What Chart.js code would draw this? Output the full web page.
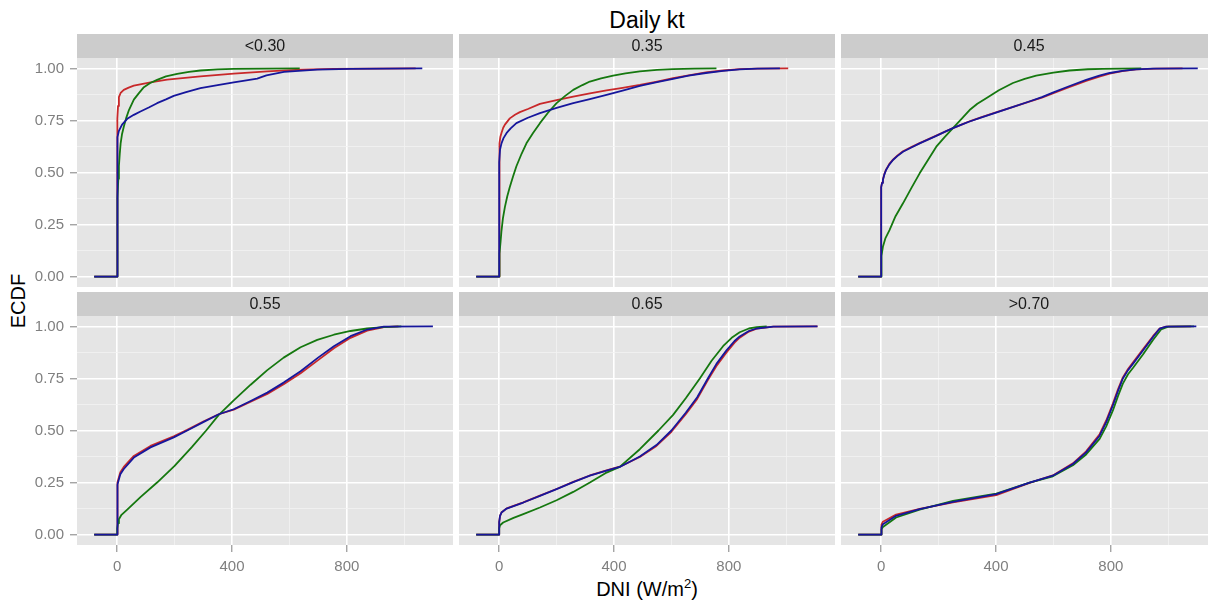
<!DOCTYPE html>
<html>
<head>
<meta charset="utf-8">
<script src="https://cdn.jsdelivr.net/npm/chart.js@4.4.0/dist/chart.umd.min.js"></script>
<style>
  body { margin: 0; width: 1208px; height: 603px; overflow: hidden; background: #fff; position: relative;
         font-family: "Liberation Sans", Arial, sans-serif; }
  canvas { position: absolute; }
  .title { position: absolute; left: 459px; width: 376px; top: 9px; text-align: center; font-size: 23px; line-height: 23px; color: #000; }
  .xlab { position: absolute; left: 459px; width: 376px; top: 579px; text-align: center; font-size: 20px; line-height: 20px; color: #000; }
  .xlab span { position: relative; top: -8px; font-size: 13px; }
  .ylab { position: absolute; left: -82px; top: 291px; width: 200px; text-align: center; font-size: 20px; line-height: 20px;
          transform: rotate(-90deg); color: #000; }
</style>
</head>
<body>
<div class="title">Daily kt</div>
<div class="ylab">ECDF</div>
<div class="xlab">DNI (W/m<span>2</span>)</div>

<canvas id="p0" width="453" height="253" style="left:0px;top:34px"></canvas>
<canvas id="p1" width="376" height="253" style="left:459px;top:34px"></canvas>
<canvas id="p2" width="376" height="253" style="left:841px;top:34px"></canvas>
<canvas id="p3" width="453" height="283" style="left:0px;top:292px"></canvas>
<canvas id="p4" width="376" height="283" style="left:459px;top:292px"></canvas>
<canvas id="p5" width="376" height="283" style="left:841px;top:292px"></canvas>

<script>
// facet labels
const panelLabels = ['<0.30', '0.35', '0.45', '0.55', '0.65', '>0.70'];

// tick positions
const xTicks = [0, 200, 400, 600, 800, 1000];
const yTicks = [0, 0.125, 0.25, 0.375, 0.5, 0.625, 0.75, 0.875, 1];

// ECDF curves, [DNI, F]
const p030Red = [[-80,0],[0,0],[0,0.6],[1,0.76],[3,0.82],[6,0.862],[12,0.882],[23,0.897],[40,0.908],[58,0.917],[116,0.933],[174,0.946],[290,0.962],[406,0.975],[523,0.986],[639,0.994],[755,0.998],[1040,1]];
const p030Green = [[-80,0],[0,0],[0,0.2],[2,0.38],[4,0.47],[6,0.53],[9,0.59],[12,0.64],[17,0.685],[23,0.72],[31,0.76],[41,0.8],[58,0.85],[75,0.88],[93,0.91],[115,0.93],[139,0.945],[170,0.962],[209,0.974],[250,0.983],[290,0.99],[350,0.995],[406,0.998],[636,1]];
const p030Blue = [[-80,0],[0,0],[0,0.62],[2,0.67],[6,0.7],[17,0.73],[35,0.758],[58,0.777],[81,0.793],[110,0.812],[139,0.833],[170,0.851],[197,0.868],[240,0.886],[290,0.905],[350,0.92],[406,0.933],[450,0.943],[488,0.951],[500,0.957],[520,0.967],[581,0.983],[697,0.994],[813,0.998],[1063,1]];

const p035Red = [[-80,0],[0,0],[0,0.58],[2,0.64],[4,0.67],[8,0.69],[14,0.715],[20,0.73],[37,0.76],[55,0.777],[72,0.79],[100,0.805],[142,0.83],[200,0.848],[258,0.865],[316,0.88],[374,0.894],[430,0.907],[490,0.921],[550,0.937],[606,0.953],[660,0.967],[720,0.981],[780,0.99],[838,0.997],[900,0.999],[1007,1]];
const p035Green = [[-80,0],[0,0],[0,0.04],[2,0.11],[5,0.17],[8,0.22],[13,0.28],[20,0.335],[28,0.385],[37,0.43],[48,0.48],[60,0.53],[78,0.59],[95,0.64],[118,0.69],[142,0.737],[170,0.787],[200,0.833],[230,0.868],[258,0.897],[290,0.92],[316,0.937],[355,0.952],[397,0.965],[440,0.976],[490,0.986],[550,0.993],[606,0.997],[680,0.999],[757,1]];
const p035Blue = [[-80,0],[0,0],[0,0.55],[3,0.61],[8,0.64],[15,0.665],[26,0.69],[40,0.712],[60,0.737],[100,0.763],[142,0.785],[200,0.81],[258,0.833],[316,0.853],[374,0.873],[430,0.893],[490,0.916],[550,0.934],[606,0.95],[660,0.965],[720,0.978],[780,0.988],[838,0.995],[900,0.999],[978,1]];

const p045Red = [[-80,0],[0,0],[0,0.43],[3,0.452],[6,0.466],[11,0.492],[17,0.514],[28,0.54],[41,0.562],[57,0.582],[76,0.602],[105,0.622],[134,0.641],[163,0.659],[192,0.677],[221,0.695],[250,0.713],[280,0.73],[308,0.746],[350,0.766],[400,0.789],[460,0.815],[516,0.84],[560,0.86],[598,0.88],[650,0.907],[714,0.94],[760,0.961],[796,0.975],[840,0.987],[888,0.995],[960,0.999],[1050,1]];
const p045Green = [[-80,0],[0,0],[0,0.05],[2,0.1],[6,0.143],[15,0.185],[29,0.223],[50,0.29],[76,0.352],[105,0.425],[134,0.496],[163,0.56],[192,0.624],[221,0.67],[250,0.713],[280,0.758],[308,0.8],[335,0.83],[366,0.857],[410,0.895],[459,0.93],[500,0.95],[540,0.965],[600,0.98],[656,0.99],[720,0.996],[772,0.998],[906,1]];
const p045Blue = [[-80,0],[0,0],[0,0.43],[3,0.45],[6,0.464],[11,0.49],[17,0.512],[28,0.538],[41,0.56],[57,0.58],[76,0.6],[105,0.62],[134,0.64],[163,0.658],[192,0.676],[221,0.695],[250,0.713],[280,0.73],[308,0.745],[350,0.765],[400,0.788],[460,0.815],[516,0.841],[560,0.862],[598,0.884],[650,0.912],[714,0.945],[760,0.965],[796,0.978],[840,0.988],[888,0.995],[947,0.999],[1103,1]];

const p055Red = [[-80,0],[0,0],[0,0.21],[2,0.25],[6,0.276],[11,0.3],[23,0.325],[58,0.378],[116,0.426],[197,0.472],[244,0.503],[300,0.543],[354,0.578],[406,0.6],[465,0.638],[523,0.676],[580,0.722],[639,0.775],[700,0.838],[755,0.895],[813,0.945],[871,0.98],[929,0.997],[980,1]];
const p055Green = [[-80,0],[0,0],[0,0.03],[3,0.055],[6,0.074],[15,0.095],[35,0.12],[81,0.18],[139,0.25],[200,0.33],[260,0.42],[310,0.5],[354,0.575],[406,0.645],[465,0.72],[523,0.79],[580,0.85],[639,0.9],[697,0.935],[755,0.96],[813,0.978],[871,0.99],[929,0.997],[990,1]];
const p055Blue = [[-80,0],[0,0],[0,0.2],[2,0.24],[6,0.266],[11,0.29],[23,0.315],[58,0.37],[116,0.419],[197,0.467],[244,0.5],[300,0.54],[354,0.578],[406,0.602],[465,0.642],[523,0.682],[580,0.73],[639,0.785],[700,0.85],[755,0.905],[813,0.953],[871,0.985],[929,0.999],[1100,1]];

const p065Red = [[-80,0],[0,0],[0,0.06],[3,0.09],[8,0.106],[26,0.126],[84,0.155],[142,0.187],[200,0.219],[258,0.253],[316,0.284],[380,0.311],[420,0.326],[490,0.373],[548,0.426],[600,0.494],[650,0.578],[690,0.652],[727,0.742],[757,0.81],[792,0.875],[820,0.922],[838,0.946],[870,0.975],[897,0.989],[955,0.999],[1109,1]];
const p065Green = [[-80,0],[0,0],[0,0.03],[3,0.045],[14,0.058],[50,0.08],[84,0.098],[142,0.13],[200,0.165],[258,0.205],[316,0.25],[370,0.295],[420,0.325],[490,0.41],[555,0.5],[606,0.575],[650,0.655],[699,0.75],[740,0.835],[780,0.905],[810,0.945],[838,0.972],[870,0.99],[897,0.997],[932,1]];
const p065Blue = [[-80,0],[0,0],[0,0.06],[3,0.09],[8,0.106],[26,0.125],[84,0.154],[142,0.186],[200,0.218],[258,0.252],[316,0.283],[380,0.31],[420,0.325],[490,0.375],[548,0.43],[600,0.5],[650,0.585],[690,0.66],[727,0.75],[757,0.82],[792,0.885],[820,0.93],[838,0.952],[870,0.978],[897,0.99],[955,0.999],[1109,1]];

const p070Red = [[-80,0],[0,0],[0,0.035],[2,0.048],[6,0.062],[52,0.096],[134,0.124],[250,0.155],[401,0.19],[517,0.248],[598,0.284],[668,0.342],[714,0.4],[761,0.482],[784,0.548],[807,0.628],[825,0.698],[842,0.755],[860,0.795],[877,0.826],[912,0.89],[947,0.953],[970,0.99],[993,0.999],[1080,1]];
const p070Green = [[-80,0],[0,0],[0,0.012],[2,0.025],[6,0.036],[52,0.082],[134,0.12],[250,0.162],[401,0.197],[517,0.25],[598,0.28],[668,0.333],[714,0.385],[761,0.46],[784,0.52],[807,0.595],[825,0.665],[842,0.725],[860,0.77],[877,0.8],[912,0.865],[947,0.935],[975,0.985],[1000,0.999],[1090,1]];
const p070Blue = [[-80,0],[0,0],[0,0.02],[2,0.035],[6,0.05],[52,0.09],[134,0.122],[250,0.157],[401,0.194],[517,0.25],[598,0.283],[668,0.339],[714,0.395],[761,0.475],[784,0.54],[807,0.62],[825,0.69],[842,0.75],[860,0.79],[877,0.82],[912,0.884],[947,0.949],[970,0.989],[993,0.999],[1098,1]];

const panelSeries = [
  [p030Red, p030Green, p030Blue],
  [p035Red, p035Green, p035Blue],
  [p045Red, p045Green, p045Blue],
  [p055Red, p055Green, p055Blue],
  [p065Red, p065Green, p065Blue],
  [p070Red, p070Green, p070Blue],
];
const lineColors = ['#c8282a', '#15780f', '#16169c'];

const FONT = '"Liberation Sans", Arial, sans-serif';
const STRIP = 24;

const stripPlugin = {
  id: 'strip',
  beforeDraw(chart, args, opts) {
    const { ctx, chartArea: a } = chart;
    ctx.save();
    ctx.fillStyle = '#cccccc';
    ctx.fillRect(a.left, a.top - STRIP, a.right - a.left, STRIP);
    ctx.fillStyle = '#e5e5e5';
    ctx.fillRect(a.left, a.top, a.right - a.left, a.bottom - a.top);
    ctx.fillStyle = '#1a1a1a';
    ctx.font = '16px ' + FONT;
    ctx.textAlign = 'center';
    ctx.textBaseline = 'middle';
    ctx.fillText(opts.text, (a.left + a.right) / 2, a.top - STRIP / 2 + 1);
    ctx.restore();
  }
};

const isMajorX = v => v % 400 === 0;
const isMajorY = v => Math.round(v * 8) % 2 === 0;

function makeChart(i) {
  const col = i % 3, row = Math.floor(i / 3);
  const leftCol = col === 0, bottomRow = row === 1;
  new Chart(document.getElementById('p' + i), {
    type: 'line',
    data: {
      datasets: panelSeries[i].map((d, k) => ({
        data: d,
        order: 2 - k, // blue on top, red underneath
        borderColor: lineColors[k],
        borderWidth: 1.8,
        pointRadius: 0,
        tension: 0,
        fill: false,
        borderJoinStyle: 'round'
      }))
    },
    options: {
      responsive: false,
      animation: false,
      layout: { padding: { top: STRIP, left: 0, right: 0, bottom: 0 }, autoPadding: false },
      plugins: { legend: { display: false }, tooltip: { enabled: false }, strip: { text: panelLabels[i] } },
      scales: {
        x: {
          type: 'linear', min: -140, max: 1170,
          afterBuildTicks: s => { s.ticks = xTicks.map(v => ({ value: v })); },
          afterFit: s => { s.height = bottomRow ? 30 : 0; s.paddingLeft = 0; s.paddingRight = 0; },
          border: { display: false },
          grid: {
            color: c => isMajorX(c.tick.value) ? '#ffffff' : '#f2f2f2',
            lineWidth: c => isMajorX(c.tick.value) ? 1.6 : 0.8,
            drawTicks: bottomRow, tickLength: 7, tickWidth: 1,
            tickColor: c => isMajorX(c.tick.value) ? '#7f7f7f' : 'rgba(0,0,0,0)'
          },
          ticks: {
            display: bottomRow, autoSkip: false, maxRotation: 0, padding: 6,
            color: '#7f7f7f', font: { family: FONT, size: 15 },
            callback: v => isMajorX(v) ? String(v) : ''
          }
        },
        y: {
          type: 'linear', min: -0.05, max: 1.05,
          afterBuildTicks: s => { s.ticks = yTicks.map(v => ({ value: v })); },
          afterFit: s => { s.width = leftCol ? 77 : 0; s.paddingTop = 0; s.paddingBottom = 0; },
          border: { display: false },
          grid: {
            color: c => isMajorY(c.tick.value) ? '#ffffff' : '#f2f2f2',
            lineWidth: c => isMajorY(c.tick.value) ? 1.6 : 0.8,
            drawTicks: leftCol, tickLength: 7, tickWidth: 1,
            tickColor: c => isMajorY(c.tick.value) ? '#7f7f7f' : 'rgba(0,0,0,0)'
          },
          ticks: {
            display: leftCol, autoSkip: false, padding: 6,
            color: '#7f7f7f', font: { family: FONT, size: 15 },
            callback: v => isMajorY(v) ? v.toFixed(2) : ''
          }
        }
      }
    },
    plugins: [stripPlugin]
  });
}

for (let i = 0; i < 6; i++) makeChart(i);
</script>
</body>
</html>
